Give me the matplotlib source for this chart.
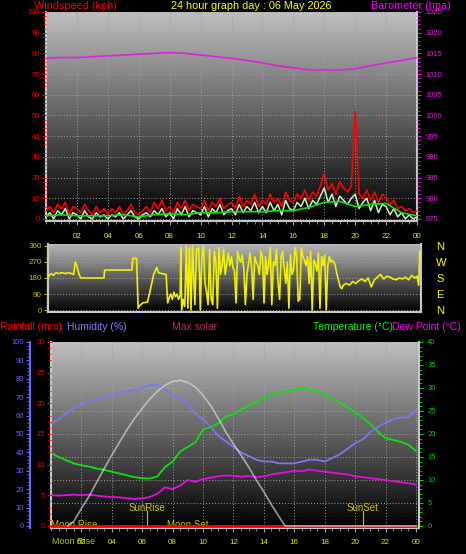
import numpy as np
import matplotlib
matplotlib.use('Agg')
import matplotlib.pyplot as plt
from matplotlib.ticker import MultipleLocator

plt.rcParams['font.family'] = ['Liberation Sans', 'DejaVu Sans']

# ---- wind, one reading every 15 minutes (kph)
wind_hours = np.arange(97) * 0.25
gust = [4, 6, 3, 7, 5, 8, 2, 6,
        5, 3, 7, 4, 2, 6, 3, 5,
        2, 5, 3, 6, 2, 4, 7, 3,
        2, 4, 6, 3, 8, 5, 9, 4,
        6, 3, 8, 5, 9, 4, 7, 6,
        5, 9, 4, 8, 6, 10, 5, 7,
        8, 5, 11, 6, 9, 7, 12, 6,
        9, 7, 12, 8, 10, 6, 13, 9,
        8, 12, 10, 14, 9, 13, 11, 16,
        22, 14, 17, 12, 18, 15, 13, 16,
        52, 12, 10, 14, 9, 13, 8, 12,
        10, 7, 9, 5, 6, 4, 5, 3,
        4]
speed = [1, 3, 0, 4, 2, 5, 0, 3,
         2, 0, 4, 1, 0, 3, 1, 2,
         0, 2, 1, 3, 0, 2, 4, 1,
         0, 2, 3, 1, 4, 2, 5, 1,
         3, 0, 5, 2, 6, 1, 4, 3,
         2, 6, 1, 5, 3, 7, 2, 4,
         5, 2, 7, 3, 6, 4, 8, 3,
         6, 3, 8, 4, 7, 2, 9, 5,
         4, 8, 6, 10, 5, 9, 7, 11,
         15, 8, 12, 6, 11, 9, 7, 10,
         12, 5, 8, 10, 4, 9, 3, 7,
         6, 2, 5, 1, 3, 0, 2, 0,
         1]
hours = list(range(25))
avg_wind = [1.5, 2, 1.5, 1.5, 1.5, 2, 1, 2, 2.5, 2, 3, 3, 3.5, 3.5, 3.5, 4, 4,
            5.5, 8, 8.5, 6, 7, 7.5, 3, 1.5]
baro = [1013.8, 1014.0, 1014.0, 1014.2, 1014.4, 1014.6, 1014.8, 1015.0, 1015.2,
        1015.0, 1014.6, 1014.2, 1013.8, 1013.3, 1012.7, 1012.0, 1011.5, 1011.0,
        1011.0, 1011.0, 1011.3, 1012.0, 1012.7, 1013.3, 1014.0]

# ---- wind direction (degrees)
dir_hours = [0.0, 0.1, 0.2, 0.35, 0.5, 0.7, 0.9, 1.1, 1.3, 1.5, 1.65, 1.75, 1.85, 2.0,
             2.1, 2.5, 3.0, 3.6, 3.65, 4.5, 5.4, 5.45, 5.7, 5.8, 5.9, 6.1, 6.4, 6.6,
             6.8, 7.0, 7.1, 7.3, 7.6, 7.7, 7.8, 7.9, 8.0, 8.1, 8.2, 8.3, 8.4, 8.5,
             8.55, 8.6, 8.7, 8.8, 8.9, 9.0, 9.1, 9.2, 9.3, 9.45, 9.55, 9.7, 9.8, 9.9,
             10.0, 10.1, 10.2, 10.3, 10.4, 10.5, 10.6, 10.7, 10.8, 10.9, 11.0, 11.1,
             11.2, 11.3, 11.4, 11.5, 11.6, 11.7, 11.8, 11.9, 12.0, 12.1, 12.2, 12.3,
             12.4, 12.5, 12.6, 12.7, 12.8, 12.9, 13.0, 13.1, 13.2, 13.3, 13.4, 13.5,
             13.6, 13.7, 13.8, 13.9, 14.0, 14.1, 14.2, 14.3, 14.4, 14.5, 14.6, 14.7,
             14.8, 14.9, 15.0, 15.1, 15.2, 15.3, 15.4, 15.5, 15.6, 15.7, 15.8, 15.9,
             16.0, 16.1, 16.2, 16.3, 16.4, 16.5, 16.6, 16.7, 16.8, 16.9, 17.0, 17.1,
             17.2, 17.3, 17.4, 17.5, 17.6, 17.7, 17.8, 17.9, 18.0, 18.1, 18.2, 18.3,
             18.45, 18.6, 18.8, 18.9, 19.0, 19.2, 19.4, 19.6, 19.8, 20.0, 20.2, 20.4,
             20.6, 20.8, 21.0, 21.2, 21.4, 21.6, 21.8, 22.0, 22.2, 22.4, 22.6, 22.8,
             23.0, 23.2, 23.4, 23.6, 23.75, 23.85, 23.92, 24.0]
dir_deg = [185, 195, 205, 195, 210, 205, 210, 205, 210, 205, 200, 270, 250, 200,
           180, 180, 180, 180, 225, 225, 225, 290, 290, 10, 25, 40, 45, 120,
           200, 240, 210, 205, 200, 40, 70, 90, 60, 100, 75, 90, 60, 80,
           350, 0, 60, 20, 360, 10, 350, 0, 360, 30, 340, 350, 0, 300,
           360, 150, 100, 30, 340, 60, 30, 330, 270, 10, 350, 200,
           250, 340, 200, 260, 320, 250, 300, 240, 220, 40, 330, 290,
           270, 310, 230, 30, 200, 260, 320, 240, 60, 300, 270, 250,
           200, 330, 300, 40, 300, 200, 260, 350, 30, 270, 250, 340,
           160, 60, 300, 330, 230, 150, 270, 10, 310, 200, 230, 350,
           300, 50, 60, 350, 300, 280, 250, 300, 150, 330, 0, 280,
           260, 220, 320, 10, 300, 250, 310, 0, 250, 300, 270, 280,
           260, 200, 130, 120, 140, 150, 140, 160, 150, 165, 175, 160,
           180, 130, 170, 185, 200, 175, 190, 185, 175, 170, 180, 175,
           185, 170, 195, 180, 190, 140, 330, 310]

# ---- bottom panel, every 30 minutes
half_hours = np.arange(49) * 0.5
humidity = [56, 58, 61, 64, 66, 68, 69, 70, 71, 72, 73, 74, 75, 76.5, 77, 74, 71,
            70, 66, 61, 58, 54, 49, 46, 43, 40, 38, 36, 35, 35, 34, 34, 34, 35, 36,
            36, 35, 37, 39, 42, 45, 47, 51, 54, 56, 58, 59, 59, 63]
temperature = [15.9, 15.0, 14.3, 13.6, 13.2, 12.9, 12.5, 12.2, 11.8, 11.4, 11.0,
               10.6, 10.4, 10.3, 10.8, 12.8, 14.0, 16.2, 17.2, 18.2, 21.0, 21.5,
               22.3, 23.8, 24.3, 25.3, 26.2, 27.0, 27.8, 28.5, 29.0, 29.3, 29.5,
               30.0, 29.6, 29.3, 28.7, 27.8, 26.8, 25.8, 24.8, 23.5, 22.2, 20.5,
               19.1, 18.7, 18.3, 17.7, 16.3]
dew_point = [6.7, 6.6, 6.7, 6.8, 6.7, 6.8, 6.6, 6.4, 6.3, 6.2, 6.0, 5.9, 6.0, 6.3,
             7.0, 8.4, 8.0, 8.8, 10.0, 9.6, 10.2, 10.5, 10.8, 11.0, 10.9, 10.7,
             10.9, 10.6, 10.8, 11.2, 11.5, 11.7, 12.0, 11.9, 12.3, 12.0, 11.8,
             11.6, 11.4, 11.2, 10.8, 10.6, 10.4, 10.2, 10.0, 9.7, 9.5, 9.3, 9.0]
rainfall = [0] * 25
solar_hours = [1.1, 1.5, 2.0, 2.5, 3.0, 3.5, 4.0, 4.5, 5.0, 5.5, 6.0, 6.5, 7.0, 7.5,
               8.0, 8.5, 9.0, 9.5, 10.0, 10.5, 11.0, 11.5, 12.0, 12.5, 13.0, 13.5,
               14.0, 14.5, 15.0, 15.4, 24.0]
max_solar = [0, 25, 95, 160, 237, 312, 385, 455, 523, 585, 640, 690, 732, 765,
             785, 792, 780, 755, 710, 655, 585, 510, 445, 385, 320, 250, 185, 115,
             50, 0, 0]
sunrise, sunset, moonset = 6.3, 20.5, 9.0

hour_labels = ['02', '04', '06', '08', '10', '12', '14', '16', '18', '20', '22', '00']

YEL = '#e8e800'
OLIVE = '#c8c000'
GRID = dict(color='#a0a0a0', linestyle=(0, (1, 2)), linewidth=0.7)

fig = plt.figure(figsize=(4.66, 5.54), dpi=100, facecolor='black')


def gradient(ax, xlim, ylim, top=0.75):
    g = np.linspace(0, top, 256).reshape(-1, 1)
    ax.imshow(g, extent=[xlim[0], xlim[1], ylim[0], ylim[1]], origin='lower',
              aspect='auto', cmap='gray', vmin=0, vmax=1, zorder=0)
    ax.set_xlim(*xlim)
    ax.set_ylim(*ylim)


def frame(ax):
    for s in ['left', 'bottom', 'right']:
        ax.spines[s].set_color('#c8c8c8')
        ax.spines[s].set_linewidth(1.5)
    ax.spines['top'].set_visible(False)


def hide(ax):
    for s in ax.spines.values():
        s.set_visible(False)


# ================= top: wind + barometer
ax1 = fig.add_axes([46 / 466, 1 - 221 / 554, 371 / 466, 209 / 554])
ax1.set_facecolor('black')
gradient(ax1, (0, 24), (-1, 100))
frame(ax1)
ax1b = ax1.twinx()
hide(ax1b)
ax1b.set_ylim(974.5, 1025)

ax1.plot(wind_hours, gust, color='#ff0000', lw=1.2, zorder=3)
ax1.plot(wind_hours, speed, color='#c8f0c8', lw=1.1, zorder=4)
ax1.plot(hours, avg_wind, color='#10e010', lw=1.2, zorder=5)
ax1b.plot(hours, baro, color='#e020e0', lw=1.2)

ax1.set_yticks(range(0, 101, 10))
ax1.yaxis.set_minor_locator(MultipleLocator(2))
ax1.tick_params(axis='y', which='both', colors='#ff0000', labelsize=5.5, length=3, pad=1.5)
ax1.tick_params(axis='y', which='minor', length=2)
ax1b.set_yticks(range(975, 1026, 5))
ax1b.yaxis.set_minor_locator(MultipleLocator(1))
ax1b.tick_params(axis='y', which='both', colors='#e020e0', labelsize=5.5, length=3, pad=3)
ax1b.tick_params(axis='y', which='minor', length=2)
ax1.set_xticks(range(2, 25, 2))
ax1.set_xticklabels(hour_labels)
ax1.xaxis.set_minor_locator(MultipleLocator(0.5))
ax1.tick_params(axis='x', which='both', colors='#a0a0a0', labelcolor=YEL,
                labelsize=5.8, length=3, pad=6)
ax1.tick_params(axis='x', which='minor', length=2)
ax1.grid(True, **GRID)
ax1.set_axisbelow(False)

# ================= middle: wind direction
ax2 = fig.add_axes([48 / 466, 1 - 311.8 / 554, 373 / 466, 67.6 / 554])
ax2.set_facecolor('black')
gradient(ax2, (0, 24), (-10, 370), top=0.72)
frame(ax2)
ax2r = ax2.twinx()
hide(ax2r)
ax2r.set_ylim(-10, 370)
ax2.plot(dir_hours, dir_deg, color='#f0f000', lw=1.2, zorder=3)
ax2.set_yticks([0, 90, 180, 270, 360])
ax2.yaxis.set_minor_locator(MultipleLocator(15))
ax2.tick_params(axis='y', which='both', colors=OLIVE, labelsize=5.8, length=3, pad=1.5)
ax2.tick_params(axis='y', which='minor', length=1.5)
ax2.set_xticks([])
ax2.grid(True, axis='y', **GRID)
ax2r.set_yticks([0, 90, 180, 270, 360])
ax2r.set_yticklabels(['N', 'E', 'S', 'W', 'N'])
ax2r.tick_params(axis='y', colors='#ffff00', labelsize=8, length=0, pad=11)

# ================= bottom: temperature, humidity, rain, solar
ax3 = fig.add_axes([51 / 466, 1 - 527.8 / 554, 368 / 466, 185.8 / 554])
ax3.set_facecolor('black')
gradient(ax3, (0, 24.2), (-0.4, 40))
frame(ax3)
ax_h = ax3.twinx()
ax_r = ax3.twinx()
ax_s = ax3.twinx()
for a in (ax_h, ax_r, ax_s):
    hide(a)
ax_h.set_ylim(-1, 100)
ax_r.set_ylim(-0.3, 30)
ax_s.set_ylim(-10, 1000)
ax_s.set_yticks([])

ax3.yaxis.tick_right()
ax3.set_yticks(range(0, 41, 5))
ax3.yaxis.set_minor_locator(MultipleLocator(1))
ax3.tick_params(axis='y', which='both', colors='#00d000', labelsize=5.5, length=3, pad=3)
ax3.tick_params(axis='y', which='minor', length=2)

ax_h.yaxis.tick_left()
ax_h.spines['left'].set_visible(True)
ax_h.spines['left'].set_position(('outward', 15))
ax_h.spines['left'].set_color('#6868ff')
ax_h.spines['left'].set_linewidth(1.5)
ax_h.set_yticks(range(0, 101, 10))
ax_h.yaxis.set_minor_locator(MultipleLocator(2))
ax_h.tick_params(axis='y', which='both', colors='#6868ff', labelsize=5.5, length=3, pad=1.5)
ax_h.tick_params(axis='y', which='minor', length=2)

ax_r.yaxis.tick_left()
ax_r.set_yticks(range(0, 31, 5))
ax_r.yaxis.set_minor_locator(MultipleLocator(1))
ax_r.tick_params(axis='y', which='both', colors='#ff0000', labelsize=5.5, length=3, pad=1.5)
ax_r.tick_params(axis='y', which='minor', length=2)

ax3.set_xticks(range(2, 25, 2))
ax3.set_xticklabels(hour_labels)
ax3.xaxis.set_minor_locator(MultipleLocator(0.5))
ax3.tick_params(axis='x', which='both', colors='#a0a0a0', labelcolor=YEL,
                labelsize=5.8, length=3, pad=5)
ax3.tick_params(axis='x', which='minor', length=2)
ax3.grid(True, **GRID)

ax_h.plot(half_hours, humidity, color='#7878f0', lw=1.3)
ax_r.plot(hours, rainfall, color='#ff0000', lw=2)
ax_s.plot(solar_hours, max_solar, color='#e0e0e0', lw=1.2, alpha=0.65)
ax3.plot(half_hours, temperature, color='#10e010', lw=1.3, zorder=5)
ax3.plot(half_hours, dew_point, color='#e010e0', lw=1.3, zorder=5)

# sun / moon markers
for h, name in [(sunrise, 'SunRise'), (sunset, 'SunSet')]:
    ax3.plot([h, h], [0, 3.3], color=OLIVE, lw=0.8, zorder=6)
    ax3.text(h, 3.9, name, color=OLIVE, fontsize=7, ha='center', va='center', zorder=7)
ax3.text(0, 0.3, 'Moon Rise', color=OLIVE, fontsize=7, ha='left', va='center', zorder=7)
ax3.text(moonset, 0.3, 'Moon Set', color=OLIVE, fontsize=7, ha='center', va='center', zorder=7)
fig.text(52 / 466, 1 - 541 / 554, 'Moon Rise', color='#a8c800', fontsize=6.5,
         ha='left', va='center')

# ================= headers
fig.text(34 / 466, 1 - 6 / 554, 'Windspeed (kph)', color='#ff0000', fontsize=7.8, ha='left', va='center')
fig.text(251 / 466, 1 - 6 / 554, '24 hour graph day : 06 May 2026', color='#ffff00', fontsize=7.8,
         ha='center', va='center')
fig.text(371 / 466, 1 - 6 / 554, 'Barometer (hpa)', color='#ff00ff', fontsize=7.8, ha='left', va='center')

fig.text(0, 1 - 327 / 554, 'Rainfall (mm)', color='#ff0000', fontsize=7.5, ha='left', va='center')
fig.text(67 / 466, 1 - 327 / 554, 'Humidity (%)', color='#8080ff', fontsize=7.5, ha='left', va='center')
fig.text(172 / 466, 1 - 327 / 554, 'Max solar', color='#b8305a', fontsize=7.5, ha='left', va='center')
fig.text(313 / 466, 1 - 327 / 554, 'Temperature (°C)', color='#00ff00', fontsize=7.5, ha='left', va='center')
fig.text(392 / 466, 1 - 327 / 554, 'Dew Point (°C)', color='#ff00ff', fontsize=7.5, ha='left', va='center')

fig.savefig('out.png', dpi=100, facecolor='black')
